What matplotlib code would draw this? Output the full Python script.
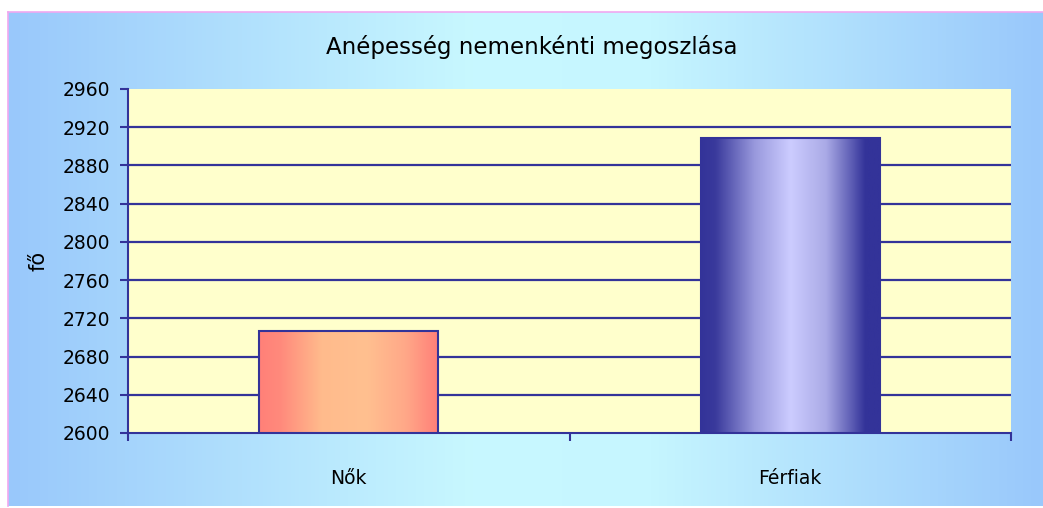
import numpy as np
import matplotlib.pyplot as plt
from matplotlib.colors import LinearSegmentedColormap

categories = ["Nők", "Férfiak"]
values = [2707, 2909]
yticks = [2600, 2640, 2680, 2720, 2760, 2800, 2840, 2880, 2920, 2960]

W, H = 1043, 508
fig = plt.figure(figsize=(W / 100, H / 100), dpi=100, facecolor="white")

# chart area background: horizontal blue -> cyan -> blue gradient
bg = fig.add_axes([8 / W, 2 / H, 1 - 8 / W, (506 - 12) / H])
bg_cmap = LinearSegmentedColormap.from_list(
    "bg", [(0, "#99c8fb"), (0.45, "#c8f8ff"), (0.62, "#c6f6ff"), (1, "#99c8fb")])
grad = np.linspace(0, 1, 256).reshape(1, -1)
bg.imshow(grad, cmap=bg_cmap, aspect="auto", extent=(0, 1, 0, 1))
bg.set_xlim(0, 1)
bg.set_ylim(0, 1)
bg.set_xticks([])
bg.set_yticks([])
for s in ["right", "bottom"]:
    bg.spines[s].set_visible(False)
for s in ["top", "left"]:
    bg.spines[s].set_color("#f0a8f0")
    bg.spines[s].set_linewidth(1.2)

ax = fig.add_axes([128 / W, 1 - 433 / H, (1011 - 128) / W, (433 - 89) / H])
ax.set_facecolor("#ffffcc")
ax.set_ylim(2600, 2960)
ax.set_xlim(-0.5, 1.5)

navy = "#333399"
for y in yticks[1:-1]:
    ax.axhline(y, color=navy, lw=1.6, zorder=1)

bars = ax.bar(range(len(categories)), values, width=0.405, bottom=0,
              facecolor="none", edgecolor=navy, linewidth=1.5, zorder=3)

cmaps = [
    LinearSegmentedColormap.from_list("f", [(0, "#ff8078"), (0.12, "#ff8a7c"), (0.35, "#ffbb8c"),
                                            (0.6, "#ffc090"), (0.82, "#ffa888"), (1, "#ff8078")]),
    LinearSegmentedColormap.from_list("m", [(0, "#333399"), (0.08, "#3a3a9c"), (0.3, "#9999dd"),
                                            (0.5, "#ccccff"), (0.7, "#aaaae6"), (0.92, "#333399"), (1, "#333399")]),
]
for b, cm in zip(bars, cmaps):
    x0, w, h = b.get_x(), b.get_width(), b.get_height()
    ax.imshow(grad, cmap=cm, aspect="auto", extent=(x0, x0 + w, 2600, h), zorder=2)
ax.set_ylim(2600, 2960)
ax.set_xlim(-0.5, 1.5)

ax.set_yticks(yticks)
ax.set_yticklabels([str(t) for t in yticks], fontsize=13.5)
ax.set_xticks([0, 1])
ax.set_xticklabels(categories, fontsize=13.5)
ax.tick_params(axis="x", length=0, pad=26)
ax.tick_params(axis="y", length=6, width=1.5, color=navy, pad=7)
ax.set_xticks([-0.5, 0.5, 1.5], minor=True)
ax.tick_params(axis="x", which="minor", length=6, width=1.5, color=navy)

for s in ["top", "right"]:
    ax.spines[s].set_visible(False)
for s in ["left", "bottom"]:
    ax.spines[s].set_color(navy)
    ax.spines[s].set_linewidth(1.5)

ax.set_ylabel("fő", fontsize=15, labelpad=10)
fig.text(532 / W, 1 - 47 / H, "Anépesség nemenkénti megoszlása", ha="center", va="center",
         fontsize=16.5)

fig.savefig("out.png", dpi=100)
